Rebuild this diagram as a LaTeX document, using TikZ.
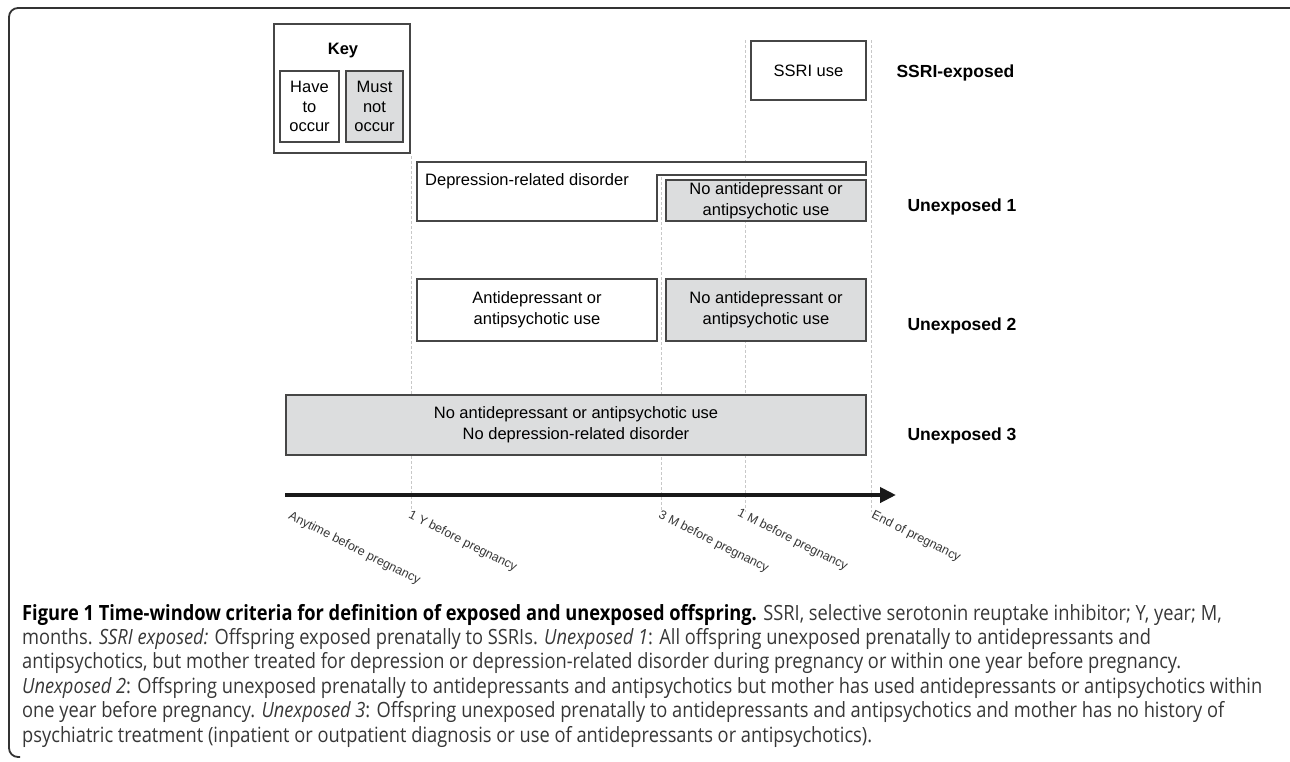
\documentclass[tikz,border=0pt]{standalone}
\usepackage{fontspec}
\setmainfont{Liberation Sans}
\newfontfamily\capfont[FakeStretch=0.87]{Open Sans}
\usetikzlibrary{arrows.meta}
\definecolor{boxgray}{RGB}{220,221,222}
\definecolor{edgecol}{RGB}{70,70,70}
\definecolor{guidecol}{RGB}{200,200,200}
\definecolor{captxt}{RGB}{55,55,55}
\begin{document}
\begin{tikzpicture}[x=1pt,y=-1pt,
  boxline/.style={draw=edgecol, line width=1.2pt},
  whitebox/.style={boxline, fill=white, rectangle, inner sep=0pt, align=center, font=\fontsize{16.5}{21}\selectfont},
  graybox/.style={whitebox, fill=boxgray},
  grouplbl/.style={anchor=west, font=\bfseries\fontsize{17.5}{21}\selectfont},
  guide/.style={draw=guidecol, line width=0.8pt, dash pattern=on 3pt off 2pt},
  ticklbl/.style={anchor=north west, rotate=-27, inner sep=0pt, text=captxt, font=\fontsize{12.5}{14}\selectfont},
  capline/.style={anchor=base west, inner sep=0pt, text=captxt, font=\capfont\fontsize{21}{24}\selectfont}
]
\useasboundingbox (0,0) rectangle (1290,761);
% frame
\draw[line width=1.8pt, black!80, rounded corners=9pt] (1290,8) -- (9,8) -- (9,757) -- (20,757);

% guide lines
\draw[guide] (411,156) -- (411,512);
\draw[guide] (661,177) -- (661,512);
\draw[guide] (745.5,40) -- (745.5,512);
\draw[guide] (871,40) -- (871,512);

% key
\node[whitebox, minimum width=136pt, minimum height=129pt] (key) at (342,88.5) {};
\node[font=\bfseries\fontsize{16.5}{20}\selectfont] (keytitle) at (343,51) {Key};
\node[whitebox, minimum width=59pt, minimum height=71pt, font=\fontsize{16.5}{19.5}\selectfont] (have) at (309.5,106.5) {Have\\to\\occur};
\node[graybox, minimum width=57pt, minimum height=71pt, font=\fontsize{16.5}{19.5}\selectfont] (must) at (374.5,106.5) {Must\\not\\occur};

% SSRI exposed
\node[whitebox, minimum width=115pt, minimum height=59pt] (ssri) at (808.5,70.5) {SSRI use};
\node[grouplbl] (lssri) at (893,73) {SSRI-exposed};

% Unexposed 1
\draw[boxline, fill=white] (417,162) -- (866,162) -- (866,175) -- (657,175) -- (657,221) -- (417,221) -- cycle;
\node[anchor=west, inner sep=0pt, font=\fontsize{16.5}{21}\selectfont] (dep) at (425,181) {Depression-related disorder};
\node[graybox, minimum width=200pt, minimum height=41pt] (noad1) at (766,200.5) {No antidepressant or\\antipsychotic use};
\node[grouplbl] (lun1) at (904,207) {Unexposed 1};

% Unexposed 2
\node[whitebox, minimum width=240pt, minimum height=62pt] (ad2) at (537,310) {Antidepressant or\\antipsychotic use};
\node[graybox, minimum width=200pt, minimum height=62pt] (noad2) at (766,310) {No antidepressant or\\antipsychotic use};
\node[grouplbl] (lun2) at (904,326) {Unexposed 2};

% Unexposed 3
\node[graybox, minimum width=580pt, minimum height=60pt] (noad3) at (576,425) {No antidepressant or antipsychotic use\\No depression-related disorder};
\node[grouplbl] (lun3) at (904,436) {Unexposed 3};

% time axis
\coordinate (t0) at (285,495);
\coordinate (t1) at (896,495);
\draw[line width=4.8pt, black!90, -{Triangle[length=16pt,width=15pt]}] (t0) -- (t1);

\node[ticklbl] (a0) at (292,510) {Anytime before pregnancy};
\node[ticklbl] (a1) at (412,509) {1 Y before pregnancy};
\node[ticklbl] (a2) at (662,509) {3 M before pregnancy};
\node[ticklbl] (a3) at (741,507) {1 M before pregnancy};
\node[ticklbl] (a4) at (875,509) {End of pregnancy};

% caption
\node[capline] (c1) at (22,620) {{\color{black}\bfseries Figure 1 Time-window criteria for definition of exposed and unexposed offspring.} SSRI, selective serotonin reuptake inhibitor; Y, year; M,};
\node[capline] (c2) at (22,644.4) {months. \textit{SSRI exposed:} Offspring exposed prenatally to SSRIs. \textit{Unexposed 1}: All offspring unexposed prenatally to antidepressants and};
\node[capline] (c3) at (22,668.8) {antipsychotics, but mother treated for depression or depression-related disorder during pregnancy or within one year before pregnancy.};
\node[capline] (c4) at (22,693.2) {\textit{Unexposed 2}: Offspring unexposed prenatally to antidepressants and antipsychotics but mother has used antidepressants or antipsychotics within};
\node[capline] (c5) at (22,717.6) {one year before pregnancy. \textit{Unexposed 3}: Offspring unexposed prenatally to antidepressants and antipsychotics and mother has no history of};
\node[capline] (c6) at (22,742) {psychiatric treatment (inpatient or outpatient diagnosis or use of antidepressants or antipsychotics).};
\end{tikzpicture}
\end{document}
